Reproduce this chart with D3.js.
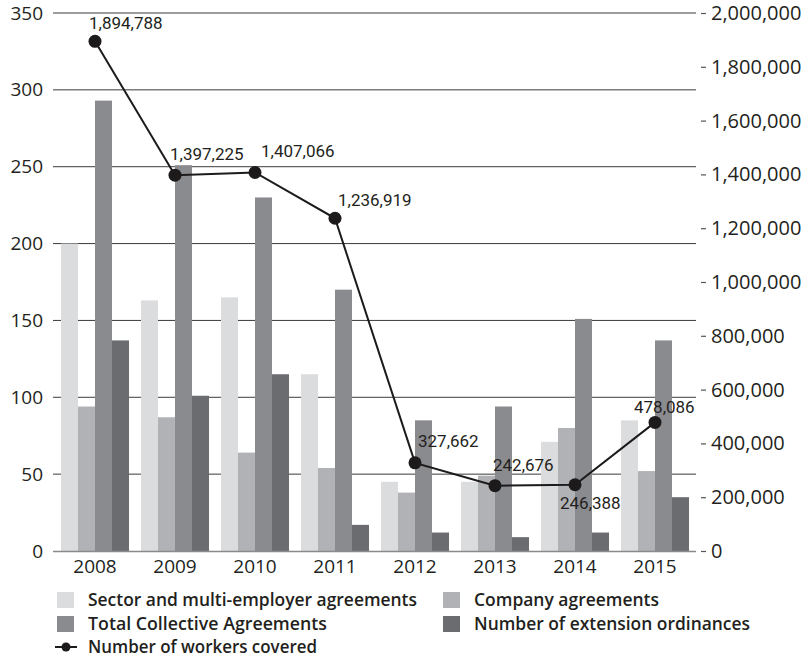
<!DOCTYPE html>
<html>
<head>
<meta charset="utf-8">
<script src="https://cdn.jsdelivr.net/npm/d3@7"></script>
<style>
  body { margin: 0; background: #fff; }
  text { fill: #231f20; }
</style>
</head>
<body>
<script>
var years = ['2008', '2009', '2010', '2011', '2012', '2013', '2014', '2015'];
var sectorAgreements = [200, 163, 165, 115, 45, 45, 71, 85];
var companyAgreements = [94, 87, 64, 54, 38, 49, 80, 52];
var totalAgreements = [293, 251, 230, 170, 85, 94, 151, 137];
var extensionOrdinances = [137, 101, 115, 17, 12, 9, 12, 35];
var workersCovered = [1894788, 1397225, 1407066, 1236919, 327662, 242676, 246388, 478086];
var leftTicks = [0, 50, 100, 150, 200, 250, 300, 350];
var rightTicks = [0, 200000, 400000, 600000, 800000, 1000000, 1200000, 1400000, 1600000, 1800000, 2000000];

var seriesNames = ['Sector and multi-employer agreements', 'Company agreements',
                   'Total Collective Agreements', 'Number of extension ordinances'];
var lineName = 'Number of workers covered';

// styling / placement, kept apart from the values
var barColors = ['#dbdcde', '#b1b2b5', '#8a8b8f', '#6b6c70'];
var labelOffsets = [[-6, -18], [-5, -21], [6, -21], [3, -18], [3, -22], [-2, -21], [-15, 18], [-21, -15]];

var width = 809, height = 661;
// NB: "top" is taken by window.top, so plot edges get their own names
var plotLeft = 53, plotRight = 696, plotTop = 13, plotBottom = 551;

var svg = d3.select('body').append('svg')
  .attr('width', width)
  .attr('height', height);

var x = d3.scaleBand().domain(years).range([55, 695])
  .paddingInner(0.15).paddingOuter(0.075);
var xInner = d3.scaleBand().domain(d3.range(4)).range([0, x.bandwidth()]);
var yLeft = d3.scaleLinear().domain([0, 350]).range([plotBottom, plotTop]);
var yRight = d3.scaleLinear().domain([0, 2000000]).range([plotBottom, plotTop]);

// grid lines
svg.append('g').selectAll('line')
  .data(leftTicks.filter(function(d) { return d > 0; }))
  .enter().append('line')
  .attr('x1', plotLeft).attr('x2', plotRight)
  .attr('y1', function(d) { return yLeft(d); })
  .attr('y2', function(d) { return yLeft(d); })
  .style('stroke', '#3a3a3a')
  .style('stroke-width', 1);

// bars
var rows = years.map(function(y, i) {
  return { year: y, vals: [sectorAgreements[i], companyAgreements[i], totalAgreements[i], extensionOrdinances[i]] };
});

var groups = svg.append('g').selectAll('g.year')
  .data(rows)
  .enter().append('g')
  .classed('year', true)
  .attr('transform', function(d) { return 'translate(' + x(d.year) + ',0)'; });

groups.selectAll('rect')
  .data(function(d) { return d.vals; })
  .enter().append('rect')
  .attr('x', function(d, i) { return xInner(i); })
  .attr('width', xInner.bandwidth())
  .attr('y', function(d) { return yLeft(d); })
  .attr('height', function(d) { return yLeft(0) - yLeft(d); })
  .attr('fill', function(d, i) { return barColors[i]; });

// baseline
svg.append('line')
  .attr('x1', plotLeft).attr('x2', plotRight)
  .attr('y1', yLeft(0) + 0.5).attr('y2', yLeft(0) + 0.5)
  .style('stroke', '#8a8a8a')
  .style('stroke-width', 1.5);

// left axis
var leftAxis = svg.append('g')
  .attr('transform', 'translate(' + (plotLeft - 2) + ',0)')
  .call(d3.axisLeft(yLeft).tickValues(leftTicks).tickSize(0).tickPadding(8));
leftAxis.select('.domain').remove();
leftAxis.selectAll('text')
  .style('font-family', '"Open Sans", sans-serif')
  .style('font-size', '19px')
  .style('fill', '#231f20');

// right axis
var rightAxis = svg.append('g')
  .attr('transform', 'translate(701,0)')
  .call(d3.axisRight(yRight).tickValues(rightTicks).tickSize(5).tickPadding(5).tickFormat(d3.format(',')));
rightAxis.select('.domain').remove();
rightAxis.selectAll('line').style('stroke', '#555').style('stroke-width', 1.2);
rightAxis.selectAll('text')
  .style('font-family', '"Open Sans", sans-serif')
  .style('font-size', '20px')
  .style('fill', '#231f20');

// bottom axis
var bottomAxis = svg.append('g')
  .attr('transform', 'translate(0,' + plotBottom + ')')
  .call(d3.axisBottom(x).tickSize(0).tickPadding(9));
bottomAxis.select('.domain').remove();
bottomAxis.selectAll('text')
  .style('font-family', '"Open Sans", sans-serif')
  .style('font-size', '19px')
  .style('fill', '#231f20');

// workers line
var pts = years.map(function(y, i) {
  return { year: y, v: workersCovered[i], off: labelOffsets[i] };
});
var line = d3.line()
  .x(function(d) { return x(d.year) + x.bandwidth() / 2; })
  .y(function(d) { return yRight(d.v); });

svg.append('path')
  .datum(pts)
  .attr('d', line)
  .style('fill', 'none')
  .style('stroke', '#1d1a1b')
  .style('stroke-width', 2);

svg.append('g').selectAll('circle')
  .data(pts)
  .enter().append('circle')
  .attr('cx', function(d) { return x(d.year) + x.bandwidth() / 2; })
  .attr('cy', function(d) { return yRight(d.v); })
  .attr('r', 6.5)
  .style('fill', '#1d1a1b');

svg.append('g').selectAll('text')
  .data(pts)
  .enter().append('text')
  .attr('x', function(d) { return x(d.year) + x.bandwidth() / 2 + d.off[0]; })
  .attr('y', function(d) { return yRight(d.v) + d.off[1]; })
  .attr('dy', '0.35em')
  .style('font-family', 'Roboto, sans-serif')
  .style('font-size', '17px')
  .text(function(d) { return d3.format(',')(d.v); });

// legend
var legendItems = [
  { name: seriesNames[0], color: barColors[0], x: 57, y: 600, w: 329 },
  { name: seriesNames[1], color: barColors[1], x: 443, y: 600, w: 185 },
  { name: seriesNames[2], color: barColors[2], x: 57, y: 624, w: 239 },
  { name: seriesNames[3], color: barColors[3], x: 443, y: 624, w: 276 }
];

var legend = svg.append('g').classed('legend', true);
var items = legend.selectAll('g.item')
  .data(legendItems)
  .enter().append('g')
  .classed('item', true)
  .attr('transform', function(d) { return 'translate(' + d.x + ',' + d.y + ')'; });

items.append('rect')
  .attr('x', 0).attr('y', -8)
  .attr('width', 17).attr('height', 16)
  .attr('fill', function(d) { return d.color; });

items.append('text')
  .attr('x', 31)
  .attr('dy', '0.35em')
  .attr('textLength', function(d) { return d.w; })
  .attr('lengthAdjust', 'spacingAndGlyphs')
  .style('font-family', '"Open Sans", sans-serif')
  .style('font-weight', 600)
  .style('font-size', '18px')
  .text(function(d) { return d.name; });

var lineItem = legend.append('g').attr('transform', 'translate(55,647)');
lineItem.append('line')
  .attr('x1', 0).attr('x2', 22)
  .style('stroke', '#1d1a1b').style('stroke-width', 2);
lineItem.append('circle')
  .attr('cx', 11).attr('r', 4.5)
  .style('fill', '#1d1a1b');
lineItem.append('text')
  .attr('x', 33)
  .attr('dy', '0.35em')
  .attr('textLength', 229)
  .attr('lengthAdjust', 'spacingAndGlyphs')
  .style('font-family', '"Open Sans", sans-serif')
  .style('font-weight', 600)
  .style('font-size', '18px')
  .text(lineName);
</script>
</body>
</html>
